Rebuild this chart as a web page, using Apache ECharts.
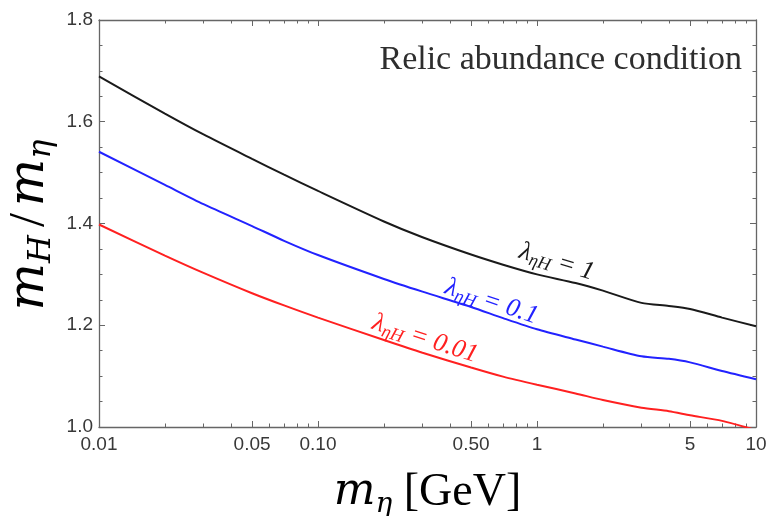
<!DOCTYPE html>
<html>
<head>
<meta charset="utf-8">
<script src="https://cdn.jsdelivr.net/npm/echarts@6/dist/echarts.min.js"></script>
<style>
  html, body { margin: 0; padding: 0; background: #ffffff; }
  #chart { width: 769px; height: 516px; }
</style>
</head>
<body>
<div id="chart"></div>
<script>
// Dark-matter mass m_eta in GeV
const massGeV = [0.01, 0.02, 0.03, 0.05, 0.07, 0.1, 0.2, 0.3, 0.5, 0.7, 1, 1.5, 2, 3, 4, 5, 7, 10];
// Mass ratio m_H / m_eta satisfying the relic abundance, one curve per coupling
const ratioLambda1   = [1.689, 1.616, 1.575, 1.527, 1.496, 1.464, 1.404, 1.373, 1.339, 1.319, 1.300, 1.283, 1.268, 1.244, 1.238, 1.232, 1.215, 1.198];
const ratioLambda01  = [1.541, 1.476, 1.438, 1.395, 1.366, 1.338, 1.291, 1.266, 1.236, 1.214, 1.192, 1.172, 1.158, 1.139, 1.134, 1.127, 1.110, 1.094];
const ratioLambda001 = [1.398, 1.337, 1.303, 1.263, 1.239, 1.215, 1.171, 1.146, 1.117, 1.099, 1.083, 1.066, 1.053, 1.038, 1.031, 1.023, 1.012, 0.994];

const couplingLabels = ['1', '0.1', '0.01'];
const curveColors = ['#1a1a1a', '#2222ff', '#ff2020'];
// Where each curve's coupling label sits, in (mass, ratio) coordinates, and its tilt in degrees
const labelAnchors = [[1.23, 1.324], [0.62, 1.246], [0.308, 1.173]];
const labelTilt = [17, 18.5, 18];

// Axis ticks
const xMajorTicks = [0.01, 0.05, 0.1, 0.5, 1, 5, 10];
const xTickLabels = ['0.01', '0.05', '0.10', '0.50', '1', '5', '10'];
const xMinorTicks = [0.02, 0.03, 0.04, 0.06, 0.07, 0.08, 0.09,
                     0.2, 0.3, 0.4, 0.6, 0.7, 0.8, 0.9,
                     2, 3, 4, 6, 7, 8, 9];
const yMin = 1.0, yMax = 1.8, yStep = 0.2;

const frameColor = '#666666';
const labelColor = '#383838';
const mathFont = 'Liberation Serif';
const mathItalic = 'DejaVu Serif';

function xLabel(v) {
  for (let i = 0; i < xMajorTicks.length; i++) {
    if (Math.abs(Math.log10(v) - Math.log10(xMajorTicks[i])) < 1e-6) return xTickLabels[i];
  }
  return '';
}

function xAxisDef(position, ticks, tickLen, withLabels, extra) {
  return Object.assign({
    type: 'log',
    logBase: 10,
    min: 0.01,
    max: 10,
    position: position,
    axisLine: { show: true, lineStyle: { color: frameColor, width: 1.3 } },
    axisTick: { show: true, inside: true, length: tickLen, customValues: ticks,
                lineStyle: { color: frameColor, width: 1 } },
    axisLabel: withLabels
      ? { show: true, customValues: ticks, formatter: xLabel, color: labelColor,
          fontSize: 19, fontFamily: 'Liberation Sans', margin: 8 }
      : { show: false },
    splitLine: { show: false },
    minorTick: { show: false },
    minorSplitLine: { show: false }
  }, extra || {});
}

function yAxisDef(position, withLabels, extra) {
  return Object.assign({
    type: 'value',
    min: yMin,
    max: yMax,
    interval: yStep,
    position: position,
    axisLine: { show: true, lineStyle: { color: frameColor, width: 1.3 } },
    axisTick: { show: true, inside: true, length: 6, lineStyle: { color: frameColor, width: 1 } },
    minorTick: { show: true, splitNumber: 4, length: 3.5, lineStyle: { color: frameColor, width: 1 } },
    axisLabel: withLabels
      ? { show: true, formatter: v => v.toFixed(1), color: labelColor,
          fontSize: 19, fontFamily: 'Liberation Sans', margin: 6 }
      : { show: false },
    splitLine: { show: false },
    minorSplitLine: { show: false }
  }, extra || {});
}

const xTitleRich = {
  m: { fontFamily: mathItalic, fontStyle: 'italic', fontSize: 44, color: '#000', lineHeight: 52, verticalAlign: 'middle' },
  s: { fontFamily: mathItalic, fontStyle: 'italic', fontSize: 28, color: '#000', lineHeight: 40, verticalAlign: 'bottom' },
  u: { fontFamily: mathFont, fontSize: 46, color: '#000', lineHeight: 52, verticalAlign: 'middle' }
};
const yTitleRich = {
  m: { fontFamily: mathItalic, fontStyle: 'italic', fontSize: 50, color: '#000', lineHeight: 56, verticalAlign: 'middle' },
  s: { fontFamily: mathItalic, fontStyle: 'italic', fontSize: 32, color: '#000', lineHeight: 44, verticalAlign: 'bottom', padding: [0, 3, 0, 0] },
  g: { fontFamily: mathFont, fontSize: 50, color: '#000', lineHeight: 56, verticalAlign: 'middle', padding: [0, 7, 0, 5] }
};

const series = [ratioLambda1, ratioLambda01, ratioLambda001].map((vals, i) => ({
  type: 'line',
  xAxisIndex: 0,
  yAxisIndex: 0,
  data: massGeV.map((m, j) => [m, vals[j]]),
  showSymbol: false,
  smooth: 0.25,
  clip: true,
  lineStyle: { color: curveColors[i], width: 2 },
  itemStyle: { color: curveColors[i] },
  z: 3
}));

const chart = echarts.init(document.getElementById('chart'), null, { renderer: 'canvas' });

chart.setOption({
  animation: false,
  backgroundColor: '#ffffff',
  grid: { left: 99, right: 13, top: 20, bottom: 89, containLabel: false, outerBoundsMode: 'none' },
  xAxis: [
    xAxisDef('bottom', xMajorTicks, 6, true, {
      name: '{m|m}{s|η}{u| [GeV]}',
      nameLocation: 'middle',
      nameGap: 40,
      nameMoveOverlap: false,
      nameTextStyle: { rich: xTitleRich }
    }),
    xAxisDef('top', xMajorTicks, 6, false),
    xAxisDef('bottom', xMinorTicks, 3.5, false, { axisLine: { show: false } }),
    xAxisDef('top', xMinorTicks, 3.5, false, { axisLine: { show: false } })
  ],
  yAxis: [
    yAxisDef('left', true, {
      name: '{m|m}{s|H}{g|/}{m|m}{s|η}',
      nameLocation: 'middle',
      nameRotate: 90,
      nameGap: 41,
      nameMoveOverlap: false,
      nameTextStyle: { rich: yTitleRich }
    }),
    yAxisDef('right', false)
  ],
  series: series
});

// Annotations: title text and the coupling label riding on each curve
const lamRich = (color) => ({
  l: { fontFamily: mathFont, fontStyle: 'italic', fontSize: 26, fill: color, lineHeight: 30, verticalAlign: 'middle' },
  s: { fontFamily: mathFont, fontStyle: 'italic', fontSize: 18, fill: color, lineHeight: 22, verticalAlign: 'bottom' },
  e: { fontFamily: mathFont, fontStyle: 'italic', fontSize: 26, fill: color, lineHeight: 30, verticalAlign: 'middle' }
});

const graphics = [{
  type: 'text',
  right: 769 - 742,
  top: 43,
  style: {
    text: 'Relic abundance condition',
    font: '34px "Liberation Serif"',
    fill: '#2e2e2e'
  },
  z: 10
}];

labelAnchors.forEach((a, i) => {
  const p = chart.convertToPixel({ xAxisIndex: 0, yAxisIndex: 0 }, a);
  graphics.push({
    type: 'text',
    x: p[0],
    y: p[1],
    rotation: -labelTilt[i] * Math.PI / 180,
    style: {
      text: '{l|λ}{s|ηH}{e| = ' + couplingLabels[i] + '}',
      rich: lamRich(curveColors[i]),
      align: 'center',
      verticalAlign: 'middle'
    },
    z: 10
  });
});

chart.setOption({ graphic: graphics });
</script>
</body>
</html>
